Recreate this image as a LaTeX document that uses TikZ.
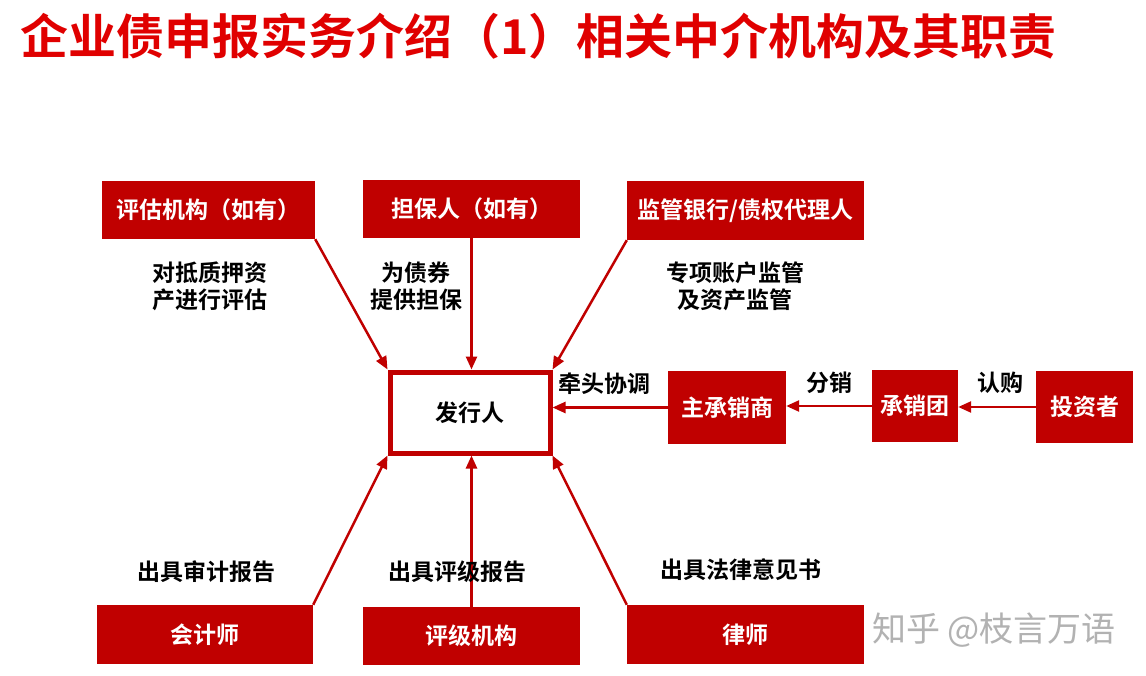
\documentclass[tikz,border=0pt]{standalone}
\usepackage{fontspec}
\usetikzlibrary{arrows.meta}
\newfontfamily\cjk{Noto Sans CJK SC}[BoldFont={Noto Sans CJK SC Bold}]
\definecolor{boxred}{HTML}{C00000}
\definecolor{titlered}{HTML}{E00000}
\begin{document}
\begin{tikzpicture}[x=1pt,y=-1pt,
  redbox/.style={fill=boxred,draw=none,text=white,font=\cjk\bfseries\fontsize{23}{26}\selectfont,inner sep=0pt},
  lbl/.style={font=\cjk\bfseries\fontsize{23}{27}\selectfont,align=center,text=black},
  conn/.style={draw=boxred,line width=2.5pt,-{Triangle[length=13pt,width=11pt]}}]
\useasboundingbox[fill=white] (0,0) rectangle (1146,676);
\node[anchor=west,text=titlered,font=\cjk\bfseries\fontsize{48}{52}\selectfont,inner sep=0pt] (title) at (20,36) {企业债申报实务介绍（1）相关中介机构及其职责};
% top boxes
\node[redbox,minimum width=213pt,minimum height=58pt] (pg) at (208.5,210) {评估机构（如有）};
\node[redbox,minimum width=217pt,minimum height=58pt] (db) at (471.5,209) {担保人（如有）};
\node[redbox,minimum width=237pt,minimum height=59pt] (jg) at (745.5,210.5) {监管银行/债权代理人};
% issuer
\node[draw=boxred,line width=5pt,fill=white,minimum width=160pt,minimum height=81pt,font=\cjk\bfseries\fontsize{23}{26}\selectfont] (fx) at (470,412.5) {发行人};
% right chain
\node[redbox,minimum width=118pt,minimum height=73pt] (zc) at (727,407.5) {主承销商};
\node[redbox,minimum width=86pt,minimum height=72pt] (cx) at (915,406) {承销团};
\node[redbox,minimum width=97pt,minimum height=72pt] (tz) at (1084.5,407) {投资者};
% bottom boxes
\node[redbox,minimum width=216pt,minimum height=59pt] (kj) at (205,634.5) {会计师};
\node[redbox,minimum width=217pt,minimum height=58pt] (pj) at (471.5,636) {评级机构};
\node[redbox,minimum width=237pt,minimum height=59pt] (ls) at (745.5,634.5) {律师};
% connectors
\draw[conn] (pg.south east) -- (fx.north west);
\draw[conn] (db.south) -- (db.south |- fx.north);
\draw[conn] (jg.south west) -- (fx.north east);
\draw[conn] (zc.west) -- (zc.west -| fx.east);
\draw[conn] (cx.west) -- (cx.west -| zc.east);
\draw[conn] (tz.west) -- (tz.west -| cx.east);
\draw[conn] (kj.north east) -- (fx.south west);
\draw[conn] (pj.north) -- (pj.north |- fx.south);
\draw[conn] (ls.north west) -- (fx.south east);
% labels
\node[lbl] (l1) at (210,286) {对抵质押资\\产进行评估};
\node[lbl] (l2) at (416,286) {为债券\\提供担保};
\node[lbl] (l3) at (735,286) {专项账户监管\\及资产监管};
\node[lbl] (l4) at (604,384) {牵头协调};
\node[lbl] (l5) at (829,383) {分销};
\node[lbl] (l6) at (1000,383) {认购};
\node[lbl] (l7) at (206,572) {出具审计报告};
\node[lbl] (l8) at (457,572) {出具评级报告};
\node[lbl] (l9) at (741,570) {出具法律意见书};
\node[font=\cjk\fontsize{34}{38}\selectfont,text=black!30] (wm) at (994,630) {知乎 @枝言万语};
\end{tikzpicture}
\end{document}
